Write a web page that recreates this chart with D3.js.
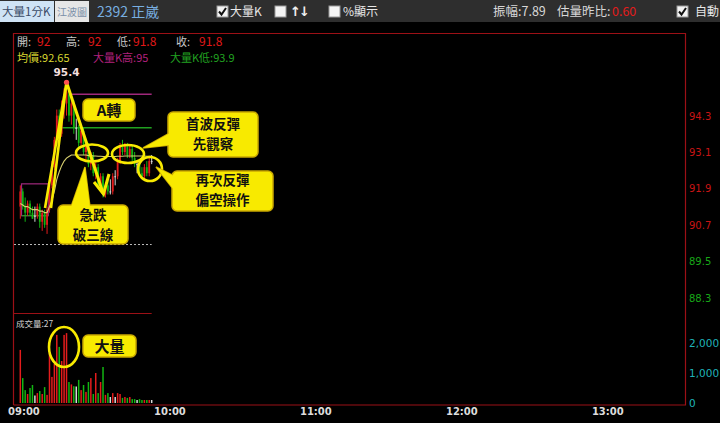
<!DOCTYPE html>
<html><head><meta charset="utf-8">
<script src="https://cdn.jsdelivr.net/npm/d3@7"></script>
<style>body{margin:0;background:#000;overflow:hidden}</style>
</head><body><svg id="c" width="720" height="423"></svg>
<script>
// ---------- data ----------
const minutes = [3,4,5,6,7,8,9,10,11,12,13,14,15,16,17,18,19,20,21,22,23,24,25,26,27,28,29,30,31,32,33,34,35,36,37,38,39,40,41,42,43,44,45,46,47,48,49,50,51,52,53,54,55,56,57];
const opens  = [91.3,91.8,91.3,91.1,91.4,91.1,91.0,91.0,91.3,90.8,91.1,90.7,91.2,92.0,92.6,93.5,94.3,93.7,94.6,94.7,95.0,94.3,94.7,93.9,93.9,93.4,93.8,93.1,93.3,92.7,93.0,92.4,92.6,92.0,92.3,91.7,92.0,91.8,91.8,92.3,92.3,92.8,93.3,93.1,93.3,93.0,93.2,92.9,92.7,92.7,92.4,92.3,92.6,92.4,92.8];
const highs  = [92.0,91.9,91.6,91.5,91.5,91.3,91.3,91.4,91.4,91.2,91.2,91.3,92.1,92.8,93.6,94.5,94.5,94.8,95.2,95.4,95.1,94.9,94.8,94.2,94.0,93.9,93.9,93.5,93.4,93.1,93.1,92.8,92.7,92.4,92.4,92.1,92.2,92.2,92.4,92.5,92.9,93.4,93.5,93.4,93.4,93.3,93.3,93.1,92.8,92.8,92.6,92.7,92.8,92.9,93.0];
const lows   = [90.9,91.2,90.8,91.0,91.0,90.9,90.8,90.9,90.6,90.5,90.6,90.4,91.1,91.9,92.5,93.4,93.5,93.6,94.2,94.3,94.1,94.0,93.7,93.5,93.2,93.3,93.0,92.8,92.6,92.5,92.3,92.2,91.9,91.9,91.6,91.6,91.7,91.7,91.7,92.0,92.2,92.7,93.0,93.0,92.9,92.9,92.8,92.6,92.4,92.3,92.2,92.2,92.3,92.3,92.7];
const closes = [91.8,91.3,91.1,91.4,91.1,90.9,91.0,91.3,90.8,91.1,90.7,91.2,92.0,92.6,93.5,94.3,93.7,94.6,95.0,95.1,94.3,94.7,93.9,93.9,93.4,93.8,93.1,93.3,92.7,93.0,92.4,92.6,92.0,92.3,91.7,92.0,91.8,91.8,92.3,92.3,92.8,93.3,93.1,93.3,93.0,93.2,92.9,92.7,92.7,92.4,92.3,92.6,92.4,92.8,92.8];
const volumes= [1770,830,430,300,500,600,250,330,400,300,530,270,1670,870,1300,2270,1870,1400,2270,2330,700,620,560,550,770,430,600,370,700,830,300,1000,330,700,1200,270,330,200,330,200,330,300,170,200,170,200,130,130,100,130,100,100,100,100,100];
const avgPrice=[91.4,91.35,91.3,91.3,91.25,91.2,91.2,91.2,91.15,91.15,91.1,91.1,91.3,91.5,91.8,92.2,92.45,92.65,92.8,92.9,92.95,93.0,93.0,93.0,93.0,93.0,93.0,93.0,92.98,92.98,92.97,92.97,92.96,92.96,92.95,92.95,92.95,92.95,92.95,92.95,92.96,92.96,92.96,92.97,92.97,92.97,92.97,92.97,92.97,92.97,92.97,92.97,92.96,92.96,92.96];
const priceTicks = [88.3,89.5,90.7,91.9,93.1,94.3];
const volTicks = [0,1000,2000];
const timeTickMinutes = [0,60,120,180,240];
const timeTickLabels = ["09:00","10:00","11:00","12:00","13:00"];
const refPrice = 90.05;
const bigKHigh = 95.0, bigKLow = 93.9;
const bigKHighStart = 24, bigKLowStart = 20, levelEnd = 57;
const boxStart = 3.5, boxEnd = 14.5, boxHigh = 92.05, boxLow = 91.0;
const peak = {t:22, p:95.4, label:"95.4"};

// ---------- setup ----------
const svg = d3.select("#c");
const CJK = "'Noto Sans CJK TC','Noto Sans CJK SC',sans-serif";
const NUM = "'DejaVu Sans',sans-serif";
svg.append("rect").attr("width",720).attr("height",423).attr("fill","#000");

const x = d3.scaleLinear().domain([0,270]).range([13,13+270*2.433]);
const y = d3.scaleLinear().domain([88.3,94.3]).range([297.6,115.6]);
const yv = d3.scaleLinear().domain([0,2000]).range([403,343]);
const frameC = "#9c1016";

// ---------- toolbar ----------
const tb = svg.append("g");
tb.append("rect").attr("width",720).attr("height",22).attr("fill","#2e2e2e");
tb.append("rect").attr("x",0).attr("y",1).attr("width",54).attr("height",21).attr("fill","#cfe3f5");
tb.append("text").attr("x",2).attr("y",16).text("大量1分K").attr("font-family",CJK).attr("font-size",11.5).attr("fill","#3a4a66");
tb.append("rect").attr("x",55).attr("y",1).attr("width",34).attr("height",21).attr("fill","#e6e6e6");
tb.append("text").attr("x",57).attr("y",15.5).text("江波圖").attr("font-family",CJK).attr("font-size",10).attr("fill","#7a8fa8");
tb.append("text").attr("x",97).attr("y",16.5).text("2392 正崴").attr("font-family",CJK).attr("font-size",14).attr("fill","#78aee0");
function checkbox(cx, checked){
  tb.append("rect").attr("x",cx).attr("y",6).attr("width",11).attr("height",11).attr("fill","#f4f4f4").attr("stroke","#999");
  if(checked) tb.append("path").attr("d",`M${cx+2},${11.5} L${cx+4.5},${14.5} L${cx+9},${8}`).attr("fill","none").attr("stroke","#111").attr("stroke-width",2);
}
checkbox(217,true);
tb.append("text").attr("x",230).attr("y",16).text("大量K").attr("font-family",CJK).attr("font-size",12).attr("fill","#e8e8e8");
checkbox(275,false);
tb.append("text").attr("x",290).attr("y",16).text("↑↓").attr("font-family",NUM).attr("font-size",13).attr("font-weight","bold").attr("fill","#f0f0f0").attr("letter-spacing",-2);
checkbox(329,false);
tb.append("text").attr("x",343).attr("y",16).text("%顯示").attr("font-family",CJK).attr("font-size",12).attr("fill","#e8e8e8");
tb.append("text").attr("x",493).attr("y",16).text("振幅:7.89").attr("font-family",CJK).attr("font-size",12.5).attr("fill","#d8d8d8");
tb.append("text").attr("x",557).attr("y",16).text("估量昨比:").attr("font-family",CJK).attr("font-size",12.5).attr("fill","#d8d8d8");
tb.append("text").attr("x",612).attr("y",16).text("0.60").attr("font-family",CJK).attr("font-size",12.5).attr("fill","#e21c1c");
checkbox(677,true);
tb.append("text").attr("x",695).attr("y",16).text("自動").attr("font-family",CJK).attr("font-size",12).attr("fill","#e8e8e8");

// ---------- frame ----------
const fr = svg.append("g").attr("fill","none").attr("stroke",frameC).attr("stroke-width",1.2);
fr.append("path").attr("d","M13.5,405 L13.5,33.5 L685.5,33.5 L685.5,405 L13.5,405");
fr.append("line").attr("x1",13.5).attr("x2",x(levelEnd)).attr("y1",313.5).attr("y2",313.5);

// ---------- info text ----------
function info(xp, yp, t, c, fs){svg.append("text").attr("x",xp).attr("y",yp).text(t).attr("font-family",CJK).attr("font-size",fs||11).attr("fill",c);}
info(17,46,"開:","#c8c8c8"); info(37,46,"92","#e01818",12);
info(66,46,"高:","#c8c8c8"); info(88,46,"92","#e01818",12);
info(117,46,"低:","#c8c8c8"); info(133,46,"91.8","#e01818",12);
info(176,46,"收:","#c8c8c8"); info(199,46,"91.8","#e01818",12);
info(17,62,"均價:92.65","#d8d830",11);
info(93,62,"大量K高:95","#b0207e",11);
info(170,62,"大量K低:93.9","#20a020",11);

// ---------- axes labels ----------
priceTicks.forEach(p=>{
  svg.append("text").attr("x",689).attr("y",y(p)+4).text(p.toFixed(1)).attr("font-family",NUM).attr("font-size",10)
    .attr("fill", p>refPrice ? "#c81414" : "#18a818");
});
volTicks.forEach(v=>{
  svg.append("text").attr("x",689).attr("y",yv(v)+4).text(d3.format(",")(v)).attr("font-family",NUM).attr("font-size",10.5).attr("fill","#1fb2b8");
});
timeTickMinutes.forEach((m,i)=>{
  svg.append("text").attr("x",x(m)-5).attr("y",415).text(timeTickLabels[i]).attr("font-family",NUM).attr("font-size",10).attr("font-weight","bold").attr("fill","#dcdcdc");
});
svg.append("text").attr("x",16).attr("y",327).text("成交量:27").attr("font-family",CJK).attr("font-size",8.5).attr("fill","#cfcfcf");

// ---------- level lines ----------
svg.append("line").attr("x1",14).attr("x2",x(levelEnd)).attr("y1",y(refPrice)).attr("y2",y(refPrice)).attr("stroke","#bbb").attr("stroke-dasharray","2,2");
svg.append("line").attr("x1",x(bigKHighStart)).attr("x2",x(levelEnd)).attr("y1",y(bigKHigh)).attr("y2",y(bigKHigh)).attr("stroke","#a0287c").attr("stroke-width",1.5);
svg.append("line").attr("x1",x(bigKLowStart)).attr("x2",x(levelEnd)).attr("y1",y(bigKLow)).attr("y2",y(bigKLow)).attr("stroke","#20a020").attr("stroke-width",1.5);
svg.append("rect").attr("x",x(boxStart)).attr("y",y(boxHigh)).attr("width",x(boxEnd)-x(boxStart)).attr("height",y(boxLow)-y(boxHigh)).attr("fill","none").attr("stroke","#a0287c").attr("stroke-width",1.2);
svg.append("line").attr("x1",x(boxStart)).attr("x2",x(boxEnd)).attr("y1",y(boxLow)).attr("y2",y(boxLow)).attr("stroke","#20a020").attr("stroke-width",1);

// ---------- candles ----------
const data = minutes.map((t,i)=>({t,o:opens[i],h:highs[i],l:lows[i],c:closes[i],v:volumes[i],a:avgPrice[i]}));
const col = d=> d.c>d.o ? "#e41c1c" : (d.c<d.o ? "#12b412" : "#d8d8d8");
const cg = svg.append("g");
data.forEach(d=>{
  const cx = x(d.t);
  cg.append("line").attr("x1",cx).attr("x2",cx).attr("y1",y(d.h)).attr("y2",y(d.l)).attr("stroke",col(d)).attr("stroke-width",1);
  const top = y(Math.max(d.o,d.c)), bot = y(Math.min(d.o,d.c));
  cg.append("rect").attr("x",cx-0.9).attr("y",top).attr("width",1.8).attr("height",Math.max(1,bot-top)).attr("fill",col(d));
  svg.append("rect").attr("x",cx-0.75).attr("y",yv(d.v)).attr("width",1.5).attr("height",yv(0)-yv(d.v)).attr("fill",col(d));
});
svg.append("path").datum(data).attr("d",d3.line().x(d=>x(d.t)).y(d=>y(d.a))).attr("fill","none").attr("stroke","#d8d070").attr("stroke-width",1.1);

// ---------- annotations ----------
const Y="#f8ea00", YS="#c9a800";
const ann = svg.append("g");
ann.append("path").attr("d",`M45,208 L${x(peak.t)},${y(peak.p)} L51,208`).attr("fill","none").attr("stroke",Y).attr("stroke-width",2.6).attr("stroke-linejoin","round");
ann.append("path").attr("d",`M${x(peak.t)},${y(peak.p)} L103,193`).attr("fill","none").attr("stroke",Y).attr("stroke-width",3);
ann.append("path").attr("d",`M94,182 L103.5,194 L109,174`).attr("fill","none").attr("stroke",Y).attr("stroke-width",3).attr("stroke-linejoin","miter");
ann.append("circle").attr("cx",x(peak.t)).attr("cy",y(peak.p)).attr("r",2.6).attr("fill","#ff5050");
ann.append("text").attr("x",x(peak.t)).attr("y",y(peak.p)-6).attr("text-anchor","middle").text(peak.label).attr("font-family",NUM).attr("font-size",10.5).attr("font-weight","bold").attr("fill","#f4dede");
[[92,153,16,8.5],[128,154,16,9],[150,169,12,12],[64,347,15,20]].forEach(e=>{
  ann.append("ellipse").attr("cx",e[0]).attr("cy",e[1]).attr("rx",e[2]).attr("ry",e[3]).attr("fill","none").attr("stroke",Y).attr("stroke-width",2.6);
});
function callout(bx,by,bw,bh,ptr,lines,fs,ly){
  if(ptr) ann.append("polygon").attr("points",ptr.map(p=>p.join(",")).join(" ")).attr("fill",Y).attr("stroke",YS).attr("stroke-width",1.5);
  ann.append("rect").attr("x",bx).attr("y",by).attr("width",bw).attr("height",bh).attr("rx",5).attr("fill",Y).attr("stroke",YS).attr("stroke-width",1.5);
  if(ptr) ann.append("polygon").attr("points",ptr.map(p=>p.join(",")).join(" ")).attr("fill",Y);
  lines.forEach((t,i)=>ann.append("text").attr("x",bx+bw/2).attr("y",ly[i]).attr("text-anchor","middle").text(t)
    .attr("font-family",CJK).attr("font-size",fs).attr("font-weight","bold").attr("fill","#111"));
}
callout(83,99,52,22,null,["A轉"],15,[116]);
callout(58,205,70,39,[[71,207],[85,167],[90,207]],["急跌","破三線"],13.5,[220,240]);
callout(168,112,90,45,[[170,133],[143,148],[170,145]],["首波反彈","先觀察"],13.5,[129,149]);
callout(172,171,101,40,[[174,176],[156,167],[174,190]],["再次反彈","偏空操作"],13.5,[185,205]);
callout(83,335,53,22,null,["大量"],15,[352]);
</script></body></html>
